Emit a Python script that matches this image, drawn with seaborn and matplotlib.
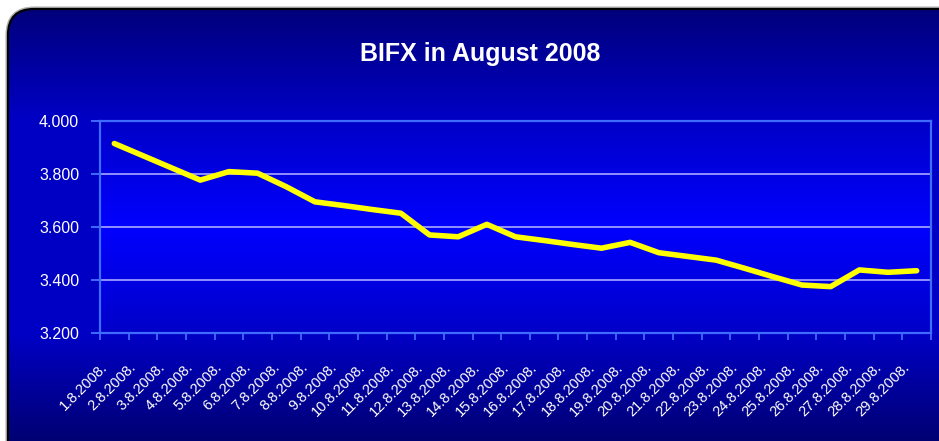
import numpy as np
import pandas as pd
import matplotlib
matplotlib.use("Agg")
import matplotlib.pyplot as plt
import matplotlib.transforms as mtransforms
from matplotlib.patches import FancyBboxPatch
from matplotlib.colors import LinearSegmentedColormap
import seaborn as sns

# ---------------- data ----------------
dates = ["1.8.2008.", "2.8.2008.", "3.8.2008.", "4.8.2008.", "5.8.2008.",
         "6.8.2008.", "7.8.2008.", "8.8.2008.", "9.8.2008.", "10.8.2008.",
         "11.8.2008.", "12.8.2008.", "13.8.2008.", "14.8.2008.", "15.8.2008.",
         "16.8.2008.", "17.8.2008.", "18.8.2008.", "19.8.2008.", "20.8.2008.",
         "21.8.2008.", "22.8.2008.", "23.8.2008.", "24.8.2008.", "25.8.2008.",
         "26.8.2008.", "27.8.2008.", "28.8.2008.", "29.8.2008."]
bifx = [3.915, 3.869, 3.823, 3.777, 3.809, 3.803, 3.752, 3.695, 3.681, 3.666,
        3.652, 3.570, 3.563, 3.610, 3.563, 3.549, 3.534, 3.520, 3.542, 3.503,
        3.489, 3.475, 3.444, 3.412, 3.381, 3.375, 3.438, 3.429, 3.435]
yticks = [3.2, 3.4, 3.6, 3.8, 4.0]
title = "BIFX in August 2008"

df = pd.DataFrame({"date": dates, "BIFX": bifx})

sns.set_theme(style="white")
plt.rcParams["font.family"] = ["Liberation Sans", "DejaVu Sans"]

W, H = 939, 441
fig = plt.figure(figsize=(W / 100, H / 100), dpi=100)
fig.patch.set_facecolor("white")

# ---------------- background rounded panel ----------------
bg = fig.add_axes([0, 0, 1, 1])
bg.set_xlim(0, W)
bg.set_ylim(H, 0)
bg.axis("off")

bg_cmap = LinearSegmentedColormap.from_list(
    "bgc",
    [(0.0, "#00007C"), (0.25, "#0000C4"), (0.75, "#0000C4"), (1.0, "#000070")])
grad = np.linspace(0, 1, 256).reshape(-1, 1)

panel = FancyBboxPatch((8, 9), 960, 460,
                       boxstyle="round,pad=0,rounding_size=26",
                       facecolor="none", edgecolor="none")
bg.add_patch(panel)
im = bg.imshow(grad, cmap=bg_cmap, aspect="auto",
               extent=[8, 968, 445, 9], zorder=1, interpolation="bilinear")
im.set_clip_path(panel)
shadow = FancyBboxPatch((7, 8), 962, 462,
                        boxstyle="round,pad=0,rounding_size=27",
                        facecolor="none", edgecolor="#B0B0B0", lw=2.2, zorder=2)
bg.add_patch(shadow)
border = FancyBboxPatch((8, 9), 960, 460,
                        boxstyle="round,pad=0,rounding_size=26",
                        facecolor="none", edgecolor="black", lw=1.6, zorder=3)
bg.add_patch(border)

bg.text(480, 54, title, color="white", fontsize=18, fontweight="bold",
        ha="center", va="center", zorder=4)

# ---------------- plot area ----------------
left, right, top, bottom = 100, 931, 121, 333
ax = fig.add_axes([left / W, 1 - bottom / H, (right - left) / W, (bottom - top) / H])
ax.set_facecolor("none")

pa_cmap = LinearSegmentedColormap.from_list(
    "pac", [(0.0, "#0000C8"), (0.5, "#0000FF"), (1.0, "#0000C8")])
ax.imshow(grad, cmap=pa_cmap, aspect="auto", extent=[0, 1, 0, 1],
          transform=ax.transAxes, zorder=0, interpolation="bilinear")

sns.lineplot(data=df, x="date", y="BIFX", ax=ax, color="#FFFF00",
             linewidth=4.0, sort=False, zorder=5, solid_capstyle="round")

ax.set_xlim(-0.5, len(dates) - 0.5)
ax.set_ylim(3.2, 4.0)
ax.set_xlabel("")
ax.set_ylabel("")

spine_c = "#3F6BFF"
grid_c = "#9C9CFF"
for s in ax.spines.values():
    s.set_visible(True)
    s.set_color(spine_c)
    s.set_linewidth(1.6)
    s.set_zorder(3)

ax.set_yticks(yticks)
ax.set_yticklabels([f"{v:.3f}" for v in yticks])
for v in yticks[1:-1]:
    ax.axhline(v, color=grid_c, lw=1.3, zorder=2)

ax.tick_params(axis="y", which="major", length=6.5, width=1.4, color=spine_c,
               labelcolor="white", labelsize=11.5, pad=8.5, left=True)

ax.set_xticks(np.arange(len(dates)))
ax.set_xticklabels(dates)
ax.set_xticks(np.arange(-0.5, len(dates), 1), minor=True)
ax.tick_params(axis="x", which="major", length=0, labelcolor="white",
               labelsize=10.5, pad=23)
ax.tick_params(axis="x", which="minor", length=5, width=1.3, color=spine_c,
               bottom=True)
off = mtransforms.ScaledTranslation(-9 / 100, 0, fig.dpi_scale_trans)
for lab in ax.get_xticklabels():
    lab.set_rotation(45)
    lab.set_ha("right")
    lab.set_va("center")
    lab.set_rotation_mode("anchor")
    lab.set_transform(lab.get_transform() + off)

fig.savefig("out.png", dpi=100, facecolor=fig.get_facecolor())
